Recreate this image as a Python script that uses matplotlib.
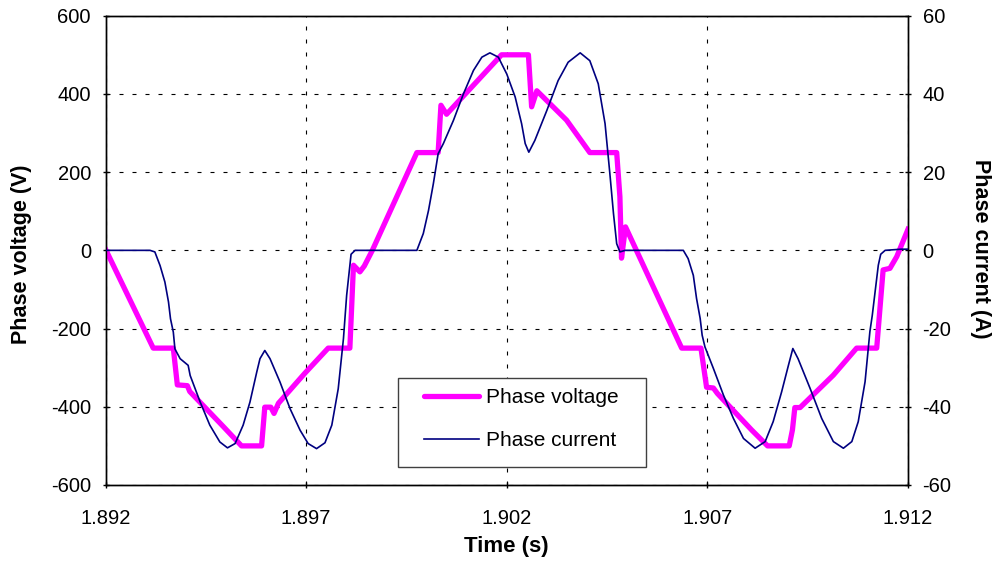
import matplotlib
matplotlib.use("Agg")
import matplotlib.pyplot as plt
from matplotlib.lines import Line2D
from matplotlib.patches import Rectangle

plt.rcParams['font.family'] = ['Liberation Sans', 'DejaVu Sans']
plt.rcParams['axes.unicode_minus'] = False

t0 = 1.892
# voltage trace: time offsets (ms) and values (V)
volt_ms = [0, 1.19, 1.69, 1.79, 2.04, 2.10, 2.94, 3.39, 3.89, 3.97, 4.12, 4.20, 4.31,
           4.97, 5.55, 6.09, 6.18, 6.34, 6.45, 6.65, 7.76, 8.29, 8.36, 8.50, 9.87,
           10.54, 10.62, 10.75, 11.49, 12.07, 12.74, 12.82, 12.86, 12.96, 14.36,
           14.84, 14.98, 15.15, 15.25, 16.10, 16.50, 17.04, 17.12, 17.18, 17.31,
           18.14, 18.72, 19.22, 19.38, 19.55, 19.72, 20.0]
volt_V = [3, -250, -250, -344, -346, -361, -451, -500, -500, -401, -401, -417, -391,
          -314, -250, -250, -38, -55, -40, 0, 250, 250, 371, 348, 500,
          500, 367, 408, 333, 250, 250, 137, -20, 60, -250,
          -250, -350, -352, -366, -459, -500, -500, -459, -402, -402,
          -319, -250, -250, -50, -46, -16, 54]

# current trace: time offsets (ms) and values (A)
curr_ms = [0, 1.11, 1.23, 1.36, 1.48, 1.57, 1.62, 1.69, 1.73, 1.86, 2.06, 2.11, 2.36,
           2.60, 2.85, 3.04, 3.23, 3.43, 3.60, 3.77, 3.85, 3.97, 4.10, 4.35, 4.60,
           4.85, 5.05, 5.26, 5.47, 5.64, 5.80, 5.93, 6.01, 6.09, 6.12, 6.22,
           7.76, 7.92, 8.05, 8.17, 8.29, 8.42, 8.67, 8.92, 9.17, 9.38, 9.58, 9.79,
           10.0, 10.21, 10.37, 10.46, 10.55, 10.70, 11.0, 11.28, 11.53, 11.83, 12.07,
           12.28, 12.45, 12.57, 12.66, 12.74, 12.82, 12.95,
           14.40, 14.52, 14.65, 14.73, 14.82, 14.87, 14.94, 15.15, 15.40, 15.65,
           15.90, 16.19, 16.44, 16.64, 16.85, 17.02, 17.13, 17.26, 17.56, 17.85,
           18.14, 18.39, 18.60, 18.76, 18.93, 19.05, 19.11, 19.18, 19.26, 19.32,
           19.43, 19.83, 20.0]
curr_A = [0, 0, -0.4, -3.9, -8.1, -13.2, -17.5, -20.9, -25.2, -27.7, -29.4, -32, -38.8,
          -44.7, -49, -50.5, -49.4, -44.7, -38.8, -31.1, -27.7, -25.6, -27.7, -33.7, -40.5,
          -46, -49.4, -50.7, -49.2, -44.7, -35.4, -22.6, -11.5, -3.9, -1, 0,
          0, 4.3, 10.2, 17, 24.7, 27.3, 33.2, 40, 46, 49.4, 50.5, 49.4,
          45.1, 39.2, 32.4, 27.3, 25.1, 28.1, 35.8, 43.4, 48.1, 50.5, 48.5,
          42.6, 32.4, 19.6, 9.4, 1.7, -0.4, 0,
          0, -2.1, -6.4, -12.3, -17.4, -21.7, -24.7, -30.2, -37, -43,
          -48.1, -50.6, -48.9, -43.8, -36.2, -29.4, -25.1, -27.7, -35.3, -43,
          -48.9, -50.6, -48.9, -43.8, -33.6, -20.8, -16.6, -10.6, -3.8, -1,
          0, 0.3, 0.3]

x_ticks = [1.892, 1.897, 1.902, 1.907, 1.912]
v_ticks = [-600, -400, -200, 0, 200, 400, 600]
i_ticks = [-60, -40, -20, 0, 20, 40, 60]

volt_t = [t0 + m / 1000 for m in volt_ms]
curr_t = [t0 + m / 1000 for m in curr_ms]

W, H = 993, 563
fig = plt.figure(figsize=(W / 100, H / 100), dpi=100)
ax = fig.add_axes([105.5/W, 1-485/H, (908-105.5)/W, (485-15.7)/H])
ax2 = ax.twinx()

vcol = '#FF00FF'
icol = '#000080'
ax.plot(volt_t, volt_V, color=vcol, lw=3.8, solid_joinstyle='round', zorder=3)
ax2.plot(curr_t, curr_A, color=icol, lw=1.2, zorder=3)

ax.set_xlim(1.892, 1.912)
ax.set_ylim(-600, 600)
ax2.set_ylim(-60, 60)
ax.set_xticks(x_ticks)
ax.set_xticklabels([f"{v:.3f}" for v in x_ticks])
ax.set_yticks(v_ticks)
ax2.set_yticks(i_ticks)

fs = 14.5
ax.tick_params(axis='y', direction='inout', length=5, width=1, pad=8, labelsize=fs)
ax.tick_params(axis='x', direction='inout', length=5, width=1, pad=14.5, labelsize=fs)
ax2.tick_params(axis='y', direction='inout', length=5, width=1, pad=8, labelsize=fs)

for a in (ax, ax2):
    for s in a.spines.values():
        s.set_linewidth(1.0)
        s.set_color('black')

ax.grid(True, color='black', lw=0.8, linestyle=(0, (3.6, 8.1)))

lfs = 15.5
fig.text(506.75/W, 1-546.5/H, 'Time (s)', fontsize=16, fontweight='bold',
         ha='center', va='center')
fig.text(22/W, 1-254/H, 'Phase voltage (V)', fontsize=lfs, fontweight='bold',
         rotation=90, ha='center', va='center')
fig.text(980.5/W, 1-249/H, 'Phase current (A)', fontsize=lfs, fontweight='bold',
         rotation=270, ha='center', va='center')

# legend frame
frame = Rectangle((398/W, 1-466.5/H), 248/W, 88.2/H, transform=fig.transFigure,
                  facecolor='white', edgecolor='#404040', lw=1.0, zorder=4,
                  clip_on=False)
ax2.add_patch(frame)

handles = [Line2D([], [], color=vcol, lw=3.8, solid_capstyle='round'),
           Line2D([], [], color=icol, lw=1.2)]
leg = ax2.legend(handles, ['Phase voltage', 'Phase current'],
                 loc='upper left', bbox_to_anchor=(424/W, 1-388/H),
                 bbox_transform=fig.transFigure, frameon=False, fontsize=15,
                 handlelength=2.65, handletextpad=0.33, borderpad=0,
                 labelspacing=1.15, borderaxespad=0)
leg.set_zorder(5)

fig.savefig('out.png', dpi=100)
